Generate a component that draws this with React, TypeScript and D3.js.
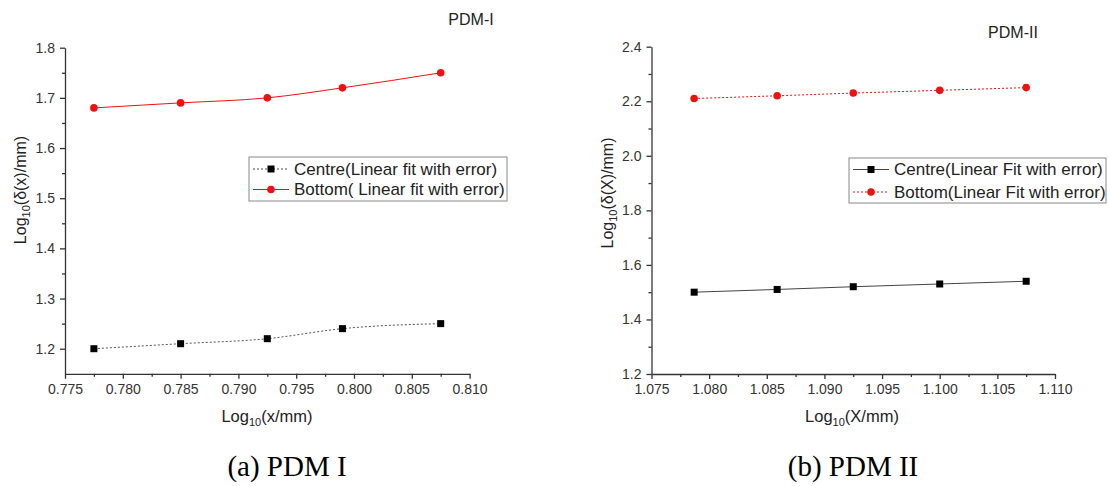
import React, { useEffect, useRef } from "react";
import * as d3 from "d3";

// panel (a) PDM I
const xA = [0.7775, 0.785, 0.7925, 0.799, 0.8075];
const centreA = [1.2, 1.21, 1.22, 1.24, 1.25];
const bottomA = [1.68, 1.69, 1.7, 1.72, 1.75];
const xTicksA = [0.775, 0.78, 0.785, 0.79, 0.795, 0.8, 0.805, 0.81];
const yTicksA = [1.2, 1.3, 1.4, 1.5, 1.6, 1.7, 1.8];
const legendA = ["Centre(Linear fit with error)", "Bottom( Linear fit with error)"];

// panel (b) PDM II
const xB = [1.0787, 1.0859, 1.0925, 1.1, 1.1075];
const centreB = [1.5, 1.51, 1.52, 1.53, 1.54];
const bottomB = [2.21, 2.22, 2.23, 2.24, 2.25];
const xTicksB = [1.075, 1.08, 1.085, 1.09, 1.095, 1.1, 1.105, 1.11];
const yTicksB = [1.2, 1.4, 1.6, 1.8, 2.0, 2.2, 2.4];
const legendB = ["Centre(Linear Fit with error)", "Bottom(Linear Fit with error)"];

const SANS = "'Liberation Sans', Arial, sans-serif";
const RED = "#ee1111";

type PanelProps = {
  xs: number[];
  centre: number[];
  bottom: number[];
  xTicks: number[];
  yTicks: number[];
  legend: string[];
  xDomain: [number, number];
  yDomain: [number, number];
  xRange: [number, number];
  yRange: [number, number];
  xFmt: string;
  yFmt: string;
  centreDashed: boolean;
  bottomDashed: boolean;
  smooth: boolean;
  title: string;
  titlePos: [number, number];
  yLabelPos: [number, number];
  yLabelVar: string;
  xLabelPos: [number, number];
  xLabelVar: string;
  legendBox: [number, number, number, number];
  legendRows: [number, number];
  caption: string;
  captionPos: [number, number];
};

const Panel = (p: PanelProps) => {
  const gRef = useRef<SVGGElement>(null);

  useEffect(() => {
    const g = d3.select(gRef.current);
    g.selectAll("*").remove();

    const x = d3.scaleLinear().domain(p.xDomain).range(p.xRange);
    const y = d3.scaleLinear().domain(p.yDomain).range(p.yRange);

    // minor ticks sit halfway between the major ones
    const mids = (t: number[]) => t.slice(1).map((v, i) => (v + t[i]) / 2);

    const x0 = p.xRange[0];
    const y0 = p.yRange[0];

    const styleAxis = (a: d3.Selection<SVGGElement, unknown, null, undefined>) => {
      a.selectAll("path, line").attr("stroke", "#333").attr("stroke-width", 1.3);
      a.selectAll("text")
        .style("font-family", SANS)
        .style("font-size", "14px")
        .attr("fill", "#333");
    };

    const xAxis = g
      .append("g")
      .attr("transform", `translate(0,${y0})`)
      .call(
        d3.axisBottom(x).tickValues(p.xTicks).tickFormat(d3.format(p.xFmt)).tickSize(5).tickSizeOuter(0).tickPadding(5)
      );
    styleAxis(xAxis);
    const xMinor = g
      .append("g")
      .attr("transform", `translate(0,${y0})`)
      .call(d3.axisBottom(x).tickValues(mids(p.xTicks)).tickFormat(() => "").tickSize(3));
    xMinor.select(".domain").remove();
    styleAxis(xMinor);

    const yAxis = g
      .append("g")
      .attr("transform", `translate(${x0},0)`)
      .call(
        d3.axisLeft(y).tickValues(p.yTicks).tickFormat(d3.format(p.yFmt)).tickSize(5).tickSizeOuter(0).tickPadding(5)
      );
    styleAxis(yAxis);
    const yMinor = g
      .append("g")
      .attr("transform", `translate(${x0},0)`)
      .call(d3.axisLeft(y).tickValues(mids(p.yTicks)).tickFormat(() => "").tickSize(3));
    yMinor.select(".domain").remove();
    styleAxis(yMinor);

    // series lines
    const line = d3
      .line<number>()
      .x((_, i) => x(p.xs[i]))
      .y((d) => y(d))
      .curve(p.smooth ? d3.curveMonotoneX : d3.curveLinear);

    g.append("path")
      .attr("d", line(p.centre))
      .attr("fill", "none")
      .attr("stroke", p.centreDashed ? "#555" : "#444")
      .attr("stroke-width", 1)
      .attr("stroke-dasharray", p.centreDashed ? "2,2" : null);

    g.append("path")
      .attr("d", line(p.bottom))
      .attr("fill", "none")
      .attr("stroke", RED)
      .attr("stroke-width", 1)
      .attr("stroke-dasharray", p.bottomDashed ? "2,2" : null);

    // markers
    g.selectAll("rect.centre")
      .data(p.centre)
      .enter()
      .append("rect")
      .attr("class", "centre")
      .attr("x", (_, i) => x(p.xs[i]) - 3.5)
      .attr("y", (d) => y(d) - 3.5)
      .attr("width", 7)
      .attr("height", 7)
      .attr("fill", "#000");

    g.selectAll("circle.bottom")
      .data(p.bottom)
      .enter()
      .append("circle")
      .attr("class", "bottom")
      .attr("cx", (_, i) => x(p.xs[i]))
      .attr("cy", (d) => y(d))
      .attr("r", 3.8)
      .attr("fill", RED);

    // legend
    const [lx, ly, lw, lh] = p.legendBox;
    g.append("rect")
      .attr("x", lx)
      .attr("y", ly)
      .attr("width", lw)
      .attr("height", lh)
      .attr("fill", "#fff")
      .attr("stroke", "#888")
      .attr("stroke-width", 1);

    p.legend.forEach((label, i) => {
      const ry = p.legendRows[i];
      const isCentre = i === 0;
      const dashed = isCentre ? p.centreDashed : p.bottomDashed;
      g.append("line")
        .attr("x1", lx + 4)
        .attr("x2", lx + 40)
        .attr("y1", ry)
        .attr("y2", ry)
        .attr("stroke", isCentre ? "#444" : RED)
        .attr("stroke-width", 1)
        .attr("stroke-dasharray", dashed ? "2,2" : null);
      if (isCentre) {
        g.append("rect")
          .attr("x", lx + 22 - 3.5)
          .attr("y", ry - 3.5)
          .attr("width", 7)
          .attr("height", 7)
          .attr("fill", "#000");
      } else {
        g.append("circle").attr("cx", lx + 22).attr("cy", ry).attr("r", 3.8).attr("fill", RED);
      }
      g.append("text")
        .attr("x", lx + 45)
        .attr("y", ry)
        .attr("dy", "0.35em")
        .style("font-family", SANS)
        .style("font-size", "17px")
        .attr("fill", "#222")
        .text(label);
    });

    // title in the corner
    g.append("text")
      .attr("x", p.titlePos[0])
      .attr("y", p.titlePos[1])
      .attr("dy", "0.35em")
      .attr("text-anchor", "middle")
      .style("font-family", SANS)
      .style("font-size", "16px")
      .attr("fill", "#222")
      .text(p.title);

    // axis labels with subscript 10
    const label = (sel: d3.Selection<SVGTextElement, unknown, null, undefined>, varText: string) => {
      sel.append("tspan").text("Log");
      sel.append("tspan").attr("dy", 4).style("font-size", "11px").text("10");
      sel.append("tspan").attr("dy", -4).text(varText);
    };

    const xl = g
      .append("text")
      .attr("x", p.xLabelPos[0])
      .attr("y", p.xLabelPos[1])
      .attr("text-anchor", "middle")
      .style("font-family", SANS)
      .style("font-size", "16.5px")
      .attr("fill", "#222");
    label(xl, p.xLabelVar);

    const yl = g
      .append("text")
      .attr("transform", `translate(${p.yLabelPos[0]},${p.yLabelPos[1]}) rotate(-90)`)
      .attr("text-anchor", "middle")
      .attr("dy", "0.35em")
      .style("font-family", SANS)
      .style("font-size", "16px")
      .attr("fill", "#222");
    label(yl, p.yLabelVar);

    // caption under the chart
    g.append("text")
      .attr("x", p.captionPos[0])
      .attr("y", p.captionPos[1])
      .attr("text-anchor", "middle")
      .style("font-family", "'Liberation Serif', 'Times New Roman', serif")
      .style("font-size", "29px")
      .attr("fill", "#000")
      .text(p.caption);
  }, [p]);

  return <g ref={gRef} />;
};

const App = () => {
  return (
    <svg
      width={1109}
      height={486}
      style={{ position: "absolute", left: 0, top: 0, background: "#fff" }}
    >
      <Panel
        xs={xA}
        centre={centreA}
        bottom={bottomA}
        xTicks={xTicksA}
        yTicks={yTicksA}
        legend={legendA}
        xDomain={[0.775, 0.81]}
        yDomain={[1.15, 1.8]}
        xRange={[65, 469.6]}
        yRange={[373.8, 47.7]}
        xFmt=".3f"
        yFmt=".1f"
        centreDashed={true}
        bottomDashed={false}
        smooth={true}
        title="PDM-I"
        titlePos={[471, 19]}
        yLabelPos={[20, 190]}
        yLabelVar="(δ(x)/mm)"
        xLabelPos={[267, 422]}
        xLabelVar="(x/mm)"
        legendBox={[249, 157, 258, 44]}
        legendRows={[169, 189.5]}
        caption="(a) PDM I"
        captionPos={[287, 476]}
      />
      <Panel
        xs={xB}
        centre={centreB}
        bottom={bottomB}
        xTicks={xTicksB}
        yTicks={yTicksB}
        legend={legendB}
        xDomain={[1.075, 1.11]}
        yDomain={[1.2, 2.4]}
        xRange={[651.5, 1055]}
        yRange={[374, 46.7]}
        xFmt=".3f"
        yFmt=".1f"
        centreDashed={false}
        bottomDashed={true}
        smooth={false}
        title="PDM-II"
        titlePos={[1013, 32]}
        yLabelPos={[607, 193]}
        yLabelVar="(δ(X)/mm)"
        xLabelPos={[852, 422]}
        xLabelVar="(X/mm)"
        legendBox={[849, 158, 257, 45]}
        legendRows={[169.5, 192]}
        caption="(b) PDM II"
        captionPos={[853, 476]}
      />
    </svg>
  );
};

export default App;
